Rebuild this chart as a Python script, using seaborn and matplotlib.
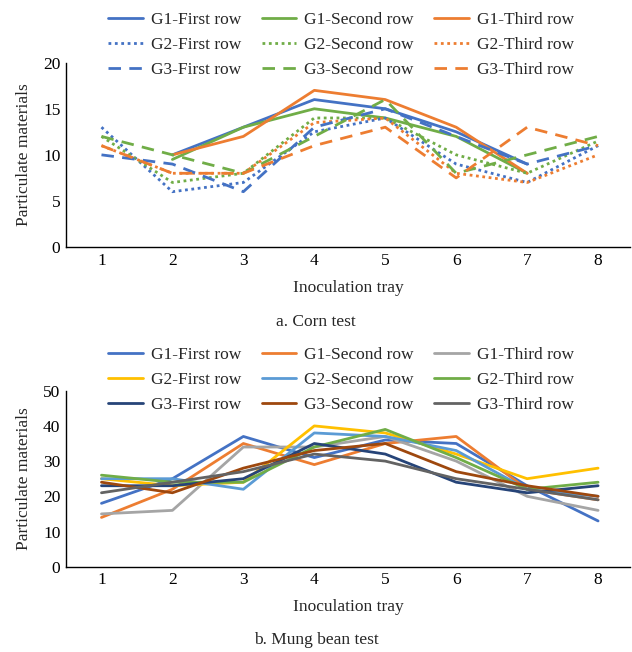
import numpy as np
import pandas as pd
import matplotlib
matplotlib.use("Agg")
import matplotlib.pyplot as plt
import seaborn as sns

# ---------------- data ----------------
trays = [1, 2, 3, 4, 5, 6, 7, 8]

# a. Corn test
corn_labels = ["G1-First row", "G1-Second row", "G1-Third row",
               "G2-First row", "G2-Second row", "G2-Third row",
               "G3-First row", "G3-Second row", "G3-Third row"]
corn_g1_first = [np.nan, 10, 13, 16, 15, 12.5, 9, np.nan]
corn_g1_second = [np.nan, 9.5, 13, 15, 14, 12, 8, np.nan]
corn_g1_third = [np.nan, 10, 12, 17, 16, 13, 8, np.nan]
corn_g2_first = [13, 6, 7, 12.5, 14, 9, 7, 11]
corn_g2_second = [12, 7, 8, 14, 14, 10, 8, 11.5]
corn_g2_third = [11, 8, 8, 13.5, 14, 8, 7, 10]
corn_g3_first = [10, 9, 6, 13, 15, 12, 9, 11]
corn_g3_second = [12, 10, 8, 12, 16, 8, 10, 12]
corn_g3_third = [11, 8, 8, 11, 13, 7.5, 13, 11]

# b. Mung bean test
bean_labels = corn_labels
bean_g1_first = [18, 25, 37, 31, 36, 35, 23, 13]
bean_g1_second = [14, 22, 35, 29, 35, 37, 22, 19]
bean_g1_third = [15, 16, 34, 34, 37, 30, 20, 16]
bean_g2_first = [25, 23, 24, 40, 38, 32, 25, 28]
bean_g2_second = [25, 25, 22, 38, 37, 33, 22, 20]
bean_g2_third = [26, 24, 24, 34, 39, 31, 22, 24]
bean_g3_first = [23, 23, 25, 35, 32, 24, 21, 23]
bean_g3_second = [24, 21, 28, 33, 35, 27, 23, 20]
bean_g3_third = [21, 24, 27, 32, 30, 25, 22, 19]

corn_series = [corn_g1_first, corn_g1_second, corn_g1_third,
               corn_g2_first, corn_g2_second, corn_g2_third,
               corn_g3_first, corn_g3_second, corn_g3_third]
bean_series = [bean_g1_first, bean_g1_second, bean_g1_third,
               bean_g2_first, bean_g2_second, bean_g2_third,
               bean_g3_first, bean_g3_second, bean_g3_third]

# ---------------- style ----------------
sns.set_theme(style="white")
plt.rcParams["font.family"] = ["Liberation Serif", "DejaVu Serif"]
plt.rcParams["xtick.direction"] = "in"
plt.rcParams["ytick.direction"] = "in"

BLUE, GREEN, ORANGE = "#4472C4", "#70AD47", "#ED7D31"
corn_colors = [BLUE, GREEN, ORANGE] * 3
DOT = (0, (1, 1.3))
DASH = (0, (4.5, 3))
corn_styles = ["-"] * 3 + [DOT] * 3 + [DASH] * 3

bean_colors = ["#4472C4", "#ED7D31", "#A5A5A5",
               "#FFC000", "#5B9BD5", "#70AD47",
               "#264478", "#9E480E", "#636363"]

W, H = 632, 652
fig = plt.figure(figsize=(W / 100, H / 100), dpi=100)


def px_axes(left, top, right, bottom):
    return fig.add_axes([left / W, 1 - bottom / H, (right - left) / W, (bottom - top) / H])


FS = 12.5

ax1 = px_axes(66, 62.7, 630, 247)
ax2 = px_axes(66, 390.7, 630, 566.7)

handles1 = []
for lab, vals, col, ls in zip(corn_labels, corn_series, corn_colors, corn_styles):
    df = pd.DataFrame({"tray": trays, "v": vals}).dropna()
    sns.lineplot(data=df, x="tray", y="v", ax=ax1, color=col, linewidth=2,
                 linestyle=ls, label=lab, legend=False)
    handles1.append(ax1.lines[-1])

handles2 = []
for lab, vals, col in zip(bean_labels, bean_series, bean_colors):
    df = pd.DataFrame({"tray": trays, "v": vals})
    sns.lineplot(data=df, x="tray", y="v", ax=ax2, color=col, linewidth=2,
                 label=lab, legend=False)
    handles2.append(ax2.lines[-1])

for ax, ylim, yt in [(ax1, (0, 20), [0, 5, 10, 15, 20]), (ax2, (0, 50), [0, 10, 20, 30, 40, 50])]:
    ax.set_xlim(0.5, 8.45)
    ax.set_ylim(*ylim)
    ax.set_xticks(trays)
    ax.set_yticks(yt)
    ax.tick_params(labelsize=FS, length=5, width=1, colors="black", pad=4)
    for s in ["top", "right"]:
        ax.spines[s].set_visible(False)
    for s in ["left", "bottom"]:
        ax.spines[s].set_color("black")
        ax.spines[s].set_linewidth(1)
    ax.set_xlabel("Inoculation tray", fontsize=FS, labelpad=8)
    ax.set_ylabel("Particulate materials", fontsize=FS, labelpad=8)

order = [0, 3, 6, 1, 4, 7, 2, 5, 8]
leg_kw = dict(ncol=3, frameon=False, fontsize=FS, loc="upper center",
              handlelength=2.0, columnspacing=1.2, handletextpad=0.45,
              labelspacing=0.53)
fig.legend([handles1[i] for i in order], [corn_labels[i] for i in order],
           bbox_to_anchor=(341 / W, 1 + 4 / H), **leg_kw)
fig.legend([handles2[i] for i in order], [bean_labels[i] for i in order],
           bbox_to_anchor=(341 / W, 1 - 331 / H), **leg_kw)

fig.text(316 / W, 1 - 322 / H, "a. Corn test", ha="center", va="center", fontsize=FS)
fig.text(316 / W, 1 - 640 / H, "b. Mung bean test", ha="center", va="center", fontsize=FS)

fig.savefig("out.png", dpi=100, facecolor="white")
